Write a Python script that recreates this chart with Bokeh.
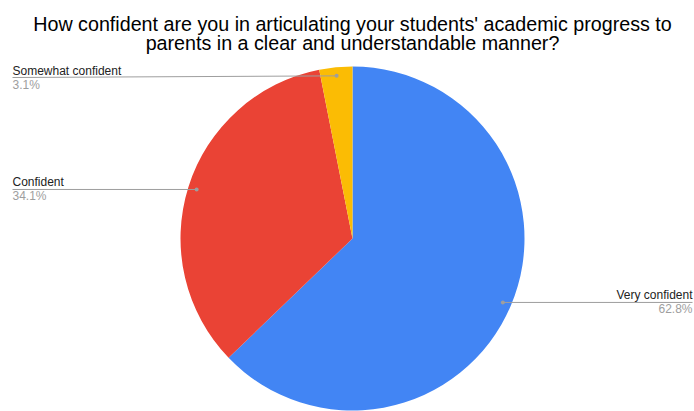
import math
from bokeh.plotting import figure
from bokeh.models import Range1d, ColumnDataSource
from bokeh.core.properties import value
from bokeh.embed import file_html
from bokeh.resources import INLINE

# ---- data ----
title_lines = [
    "How confident are you in articulating your students' academic progress to",
    "parents in a clear and understandable manner?",
]
categories = ["Very confident", "Confident", "Somewhat confident"]
percentages = [62.8, 34.1, 3.1]
colors = ["#4285F4", "#EA4335", "#FBBC04"]

# ---- layout (screen pixels of the reference) ----
W, H = 694, 411
CX, CY, R = 352, 238, 172
DOT_FRAC = 0.95
LEFT_X, RIGHT_X = 12, 692
MIN_LABEL_Y = 77
FONT = "Liberation Sans"
BASE_FIX = 3.5  # renderer places alphabetic baseline slightly low


def X(sx):
    return sx


def Y(sy):
    return H - sy


p = figure(width=W, height=H, x_range=Range1d(0, W), y_range=Range1d(0, H),
           output_backend="svg", toolbar_location=None, min_border=0,
           x_axis_type=None, y_axis_type=None)
p.grid.visible = False
p.outline_line_color = None
p.background_fill_color = "white"

total = sum(percentages)
starts, ends = [], []
acc = 0.0
for v in percentages:
    f = v / total
    starts.append(math.pi / 2 - 2 * math.pi * (acc + f))
    ends.append(math.pi / 2 - 2 * math.pi * acc)
    acc += f

src = ColumnDataSource(dict(start=starts, end=ends, color=colors))
p.wedge(x=X(CX), y=Y(CY), radius=R, start_angle="start", end_angle="end",
        fill_color="color", line_color=None, source=src)

# labels
acc = 0.0
dx, dy, lx, ly = [], [], [], []
for cat, v in zip(categories, percentages):
    f = v / total
    mid = 2 * math.pi * (acc + f / 2)
    acc += f
    sx = CX + DOT_FRAC * R * math.sin(mid)
    sy = CY - DOT_FRAC * R * math.cos(mid)
    right = math.sin(mid) >= 0
    lsx = RIGHT_X if right else LEFT_X
    lsy = max(sy, MIN_LABEL_Y)
    dx.append(X(sx)); dy.append(Y(sy)); lx.append(X(lsx)); ly.append(Y(lsy))
    align = "right" if right else "left"
    p.text(x=[X(lsx)], y=[Y(lsy - 3.5 - BASE_FIX)], text=[cat], text_align=align,
           text_baseline="alphabetic", text_font=value(FONT),
           text_font_size="12px", text_color="#222222")
    p.text(x=[X(lsx)], y=[Y(lsy + 10.5 - BASE_FIX)], text=[f"{v:.1f}%"], text_align=align,
           text_baseline="alphabetic", text_font=value(FONT),
           text_font_size="12px", text_color="#9E9E9E")

p.segment(x0=dx, y0=dy, x1=lx, y1=ly, line_color="#9E9E9E", line_width=1)
p.scatter(x=dx, y=dy, size=4, fill_color="#9E9E9E", line_color=None)

# title
for i, t in enumerate(title_lines):
    p.text(x=[X(352)], y=[Y(26.5 + 19 * i - BASE_FIX)], text=[t], text_align="center",
           text_baseline="alphabetic", text_font=value(FONT),
           text_font_size="19.7px", text_color="#000000")

open("out.html", "w").write(file_html(p, INLINE))
